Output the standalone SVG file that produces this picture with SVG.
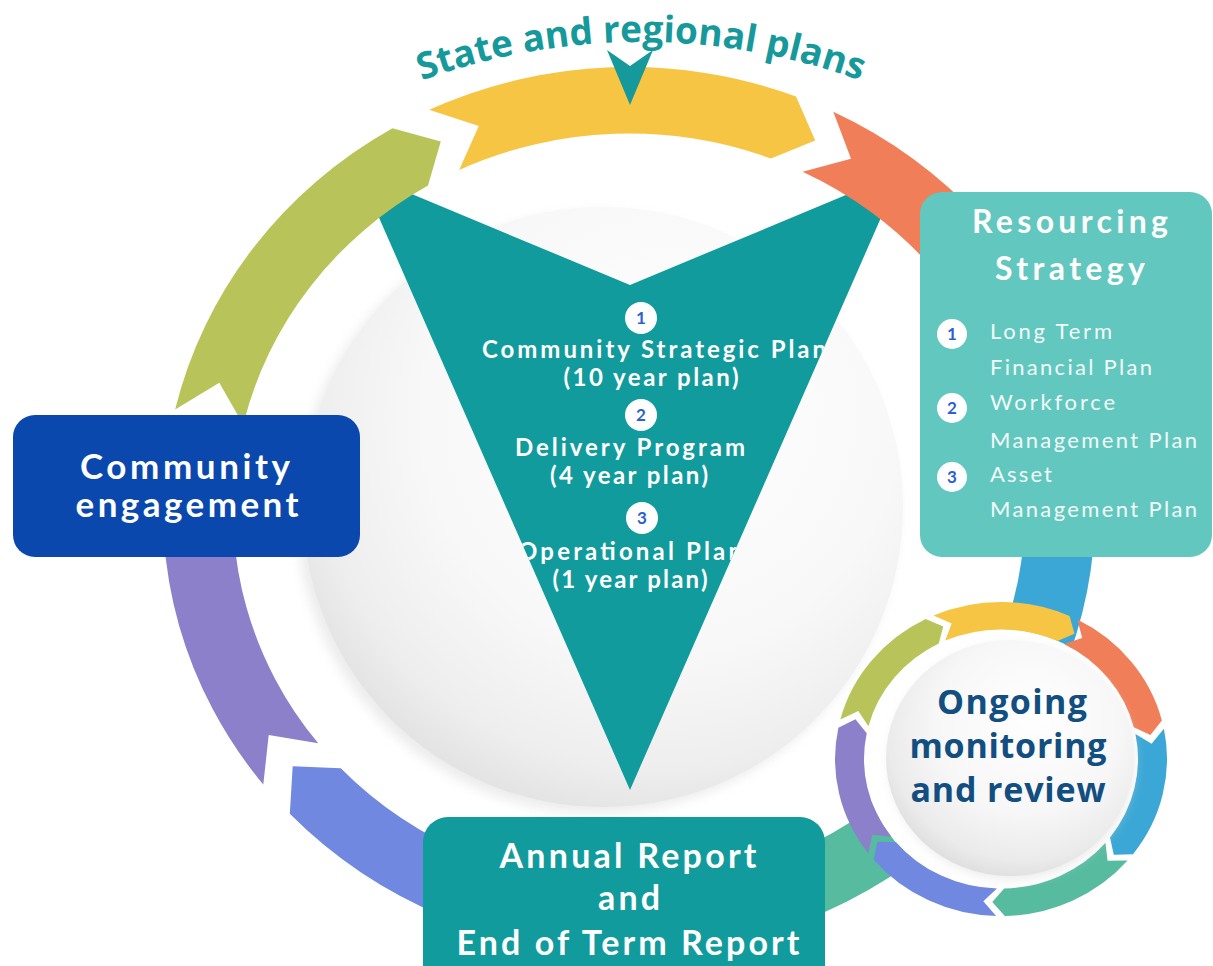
<svg xmlns="http://www.w3.org/2000/svg" width="1213" height="966" viewBox="0 0 1213 966">
<defs>
<style>
.lato{font-family:Lato,"Open Sans","Liberation Sans",sans-serif}
.osb{font-family:"Open Sans","Liberation Sans",sans-serif;font-weight:700}
.wb{fill:#ffffff;font-weight:700;text-anchor:middle}
.tri{font-size:24px}
.num{font-family:Lato,"Open Sans","Liberation Sans",sans-serif;font-weight:700;font-size:17px;fill:#2c5fd0;text-anchor:middle}
.badge{fill:#ffffff}
.list{font-size:22px;fill:#f2fbfa;font-weight:400}
.y{fill:#f6c544}.o{fill:#f07e58}.c{fill:#3aa7d6}.t{fill:#56bb9f}.p{fill:#7088e0}.v{fill:#8c80cb}.g{fill:#b8c459}
</style>
<path id="seg" d="M0,-466 A466,466 0 0,1 337.5,-321.4 L334.9,-271.2 L286.8,-273.1 A396,396 0 0,0 0,-396 L37.6,-429.4 Z"/>
<path id="sseg" d="M0,-166 A166,166 0 0,1 124.1,-110.2 L121,-91.2 L102.4,-91 A137,137 0 0,0 0,-137 L13.2,-150.9 Z"/>
<radialGradient id="sphere" cx="0.58" cy="0.38" r="0.66" fx="0.62" fy="0.3">
<stop offset="0" stop-color="#ffffff"/>
<stop offset="0.6" stop-color="#f8f8f8"/>
<stop offset="0.86" stop-color="#eeeeee"/>
<stop offset="1" stop-color="#e1e1e1"/>
</radialGradient>
<radialGradient id="disc" cx="0.55" cy="0.4" r="0.62" fx="0.6" fy="0.3">
<stop offset="0" stop-color="#ffffff"/>
<stop offset="0.6" stop-color="#f7f7f7"/>
<stop offset="0.88" stop-color="#ebebeb"/>
<stop offset="1" stop-color="#dedede"/>
</radialGradient>
<filter id="blur" x="-20%" y="-20%" width="140%" height="140%"><feGaussianBlur stdDeviation="6"/></filter>
<clipPath id="triClip"><polygon points="359,172 630,285 901,172 630,790"/></clipPath>
<path id="titleArc" d="M271.6,158.5 A644,644 0 0,1 1010.4,158.5"/>
</defs>
<rect width="1213" height="966" fill="#ffffff"/>

<g id="sphere-bg">
<circle cx="597" cy="513" r="300" fill="#dcdcdc" opacity="0.55" filter="url(#blur)"/>
<circle cx="603" cy="507" r="300" fill="url(#sphere)"/>
</g>

<g id="plans-triangle">
<polygon points="359,172 630,285 901,172 630,790" fill="#129b9c"/>
<g clip-path="url(#triClip)">
<circle class="badge" cx="641" cy="318" r="16"/>
<text class="num" x="641" y="324">1</text>
<text class="lato wb tri" x="654" y="358" textLength="344" lengthAdjust="spacing">Community Strategic Plan</text>
<text class="lato wb tri" x="651" y="386" textLength="175" lengthAdjust="spacing">(10 year plan)</text>
<circle class="badge" cx="641" cy="415" r="16"/>
<text class="num" x="641" y="421">2</text>
<text class="lato wb tri" x="630" y="456" textLength="230" lengthAdjust="spacing">Delivery Program</text>
<text class="lato wb tri" x="629" y="484" textLength="158" lengthAdjust="spacing">(4 year plan)</text>
<circle class="badge" cx="642" cy="518" r="16"/>
<text class="num" x="642" y="524">3</text>
<text class="lato wb tri" x="630" y="560" textLength="224" lengthAdjust="spacing">Operational Plan</text>
<text class="lato wb tri" x="630" y="588" textLength="155" lengthAdjust="spacing">(1 year plan)</text>
</g>
</g>

<g id="connectors">
<g id="main-cycle" transform="translate(629,510) scale(1,0.9506)">
<use href="#seg" class="y" transform="rotate(-25.4)"/>
<use href="#seg" class="o" transform="rotate(26)"/>
<use href="#seg" class="c" transform="rotate(77.4)"/>
<use href="#seg" class="t" transform="rotate(128.9)"/>
<use href="#seg" class="p" transform="rotate(180.3)"/>
<use href="#seg" class="v" transform="rotate(231.7)"/>
<use href="#seg" class="g" transform="rotate(283.1)"/>
</g>
</g>

<g id="state-regional-plans">
<text class="osb" font-size="37" fill="#16999b" text-anchor="middle"><textPath href="#titleArc" startOffset="50%">State and regional plans</textPath></text>
<polygon points="607,50 630,66 653,50 630,105" fill="#16999b"/>
</g>

<g id="resourcing-strategy">
<rect x="920" y="192" width="292" height="365" rx="22" fill="#62c7be"/>
<text class="lato wb" font-size="32" x="1070" y="233" textLength="196" lengthAdjust="spacing" fill="#f4fbfa">Resourcing</text>
<text class="lato wb" font-size="32" x="1070" y="280" textLength="150" lengthAdjust="spacing" fill="#f4fbfa">Strategy</text>
<circle class="badge" cx="952" cy="334" r="15"/>
<text class="num" x="952" y="340">1</text>
<circle class="badge" cx="952" cy="408" r="15"/>
<text class="num" x="952" y="414">2</text>
<circle class="badge" cx="952" cy="477" r="15"/>
<text class="num" x="952" y="483">3</text>
<text class="lato list" x="990" y="339" textLength="122" lengthAdjust="spacing">Long Term</text>
<text class="lato list" x="990" y="375" textLength="162" lengthAdjust="spacing">Financial Plan</text>
<text class="lato list" x="990" y="410" textLength="125" lengthAdjust="spacing">Workforce</text>
<text class="lato list" x="990" y="448" textLength="207" lengthAdjust="spacing">Management Plan</text>
<text class="lato list" x="990" y="482" textLength="62" lengthAdjust="spacing">Asset</text>
<text class="lato list" x="990" y="517" textLength="207" lengthAdjust="spacing">Management Plan</text>
</g>

<g id="community-engagement">
<rect x="13" y="415" width="347" height="142" rx="22" fill="#0b48ad"/>
<text class="lato wb" font-size="35" x="185" y="479" textLength="210" lengthAdjust="spacing">Community</text>
<text class="lato wb" font-size="35" x="187" y="517" textLength="223" lengthAdjust="spacing">engagement</text>
</g>

<g id="annual-report">
<rect x="423" y="817" width="402" height="180" rx="25" fill="#129b9c"/>
<text class="lato wb" font-size="34" x="628" y="868" textLength="257" lengthAdjust="spacing">Annual Report</text>
<text class="lato wb" font-size="34" x="629" y="910" textLength="62" lengthAdjust="spacing">and</text>
<text class="lato wb" font-size="34" x="628" y="955" textLength="343" lengthAdjust="spacing">End of Term Report</text>
</g>

<g id="ongoing-monitoring">
<ellipse cx="1001" cy="759" rx="137" ry="130" fill="#ffffff"/>
<g transform="translate(1001,759) scale(1,0.946)">
<use href="#sseg" class="y" transform="rotate(-24)"/>
<use href="#sseg" class="o" transform="rotate(27.4)"/>
<use href="#sseg" class="c" transform="rotate(78.9)"/>
<use href="#sseg" class="t" transform="rotate(130.3)"/>
<use href="#sseg" class="p" transform="rotate(181.7)"/>
<use href="#sseg" class="v" transform="rotate(233.1)"/>
<use href="#sseg" class="g" transform="rotate(284.6)"/>
</g>
<ellipse cx="1012" cy="762" rx="122" ry="117" fill="#dddddd" opacity="0.6" filter="url(#blur)"/>
<ellipse cx="1010" cy="758" rx="124" ry="118" fill="url(#disc)"/>
<text class="osb" font-size="34" fill="#124e80" text-anchor="middle" x="1012" y="714" textLength="150" lengthAdjust="spacing">Ongoing</text>
<text class="osb" font-size="34" fill="#124e80" text-anchor="middle" x="1008" y="758" textLength="197" lengthAdjust="spacing">monitoring</text>
<text class="osb" font-size="34" fill="#124e80" text-anchor="middle" x="1008" y="802" textLength="195" lengthAdjust="spacing">and review</text>
</g>
</svg>
